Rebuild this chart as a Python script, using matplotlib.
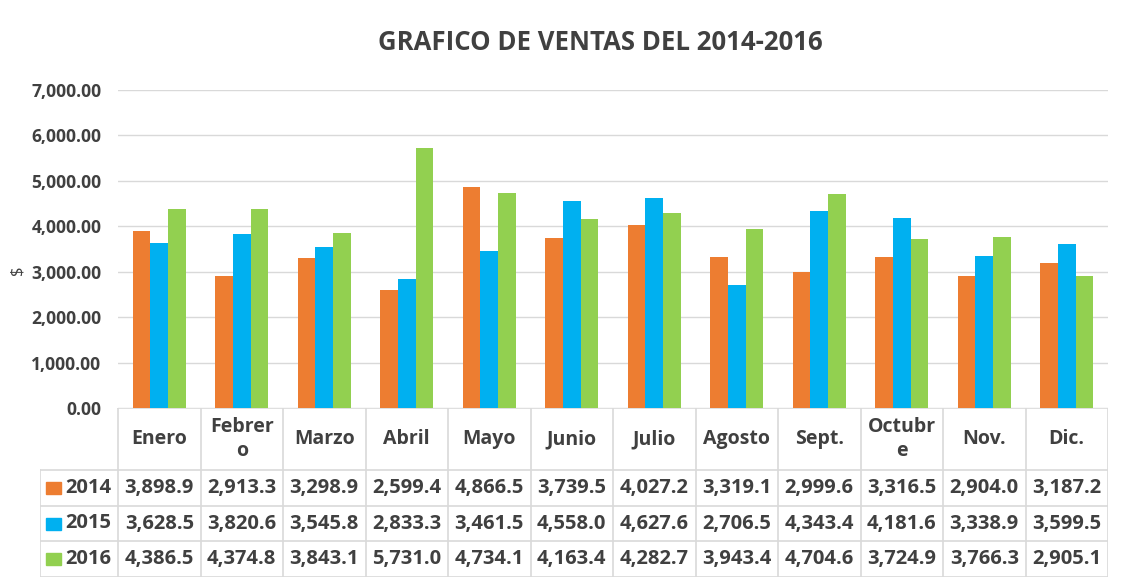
import numpy as np
import matplotlib.pyplot as plt

meses = ["Enero", "Febrer\no", "Marzo", "Abril", "Mayo", "Junio", "Julio",
         "Agosto", "Sept.", "Octubr\ne", "Nov.", "Dic."]
anios = ["2014", "2015", "2016"]
ventas_2014 = [3898.9, 2913.3, 3298.9, 2599.4, 4866.5, 3739.5, 4027.2, 3319.1, 2999.6, 3316.5, 2904.0, 3187.2]
ventas_2015 = [3628.5, 3820.6, 3545.8, 2833.3, 3461.5, 4558.0, 4627.6, 2706.5, 4343.4, 4181.6, 3338.9, 3599.5]
ventas_2016 = [4386.5, 4374.8, 3843.1, 5731.0, 4734.1, 4163.4, 4282.7, 3943.4, 4704.6, 3724.9, 3766.3, 2905.1]
colores = ["#ED7D31", "#00B0F0", "#92D050"]

plt.rcParams['font.family'] = ['Open Sans', 'DejaVu Sans']
txt = "#404040"
grid_c = "#D9D9D9"

W, H = 1126, 588
fig = plt.figure(figsize=(W / 100, H / 100), dpi=100)

# main bar axes
x0, x1, yb, yt = 118, 1108, 408, 90
ax = fig.add_axes([x0 / W, 1 - yb / H, (x1 - x0) / W, (yb - yt) / H])
x = np.arange(len(meses))
bw = 0.213
series = [ventas_2014, ventas_2015, ventas_2016]
for i, (vals, c) in enumerate(zip(series, colores)):
    ax.bar(x + (i - 1) * bw, vals, bw, color=c, zorder=3)

ax.set_xlim(-0.5, 11.5)
ax.set_ylim(0, 7000)
ax.set_yticks(np.arange(0, 7001, 1000))
ax.set_yticklabels([f"{v:,.2f}" for v in np.arange(0, 7001, 1000)],
                   fontsize=12.6, fontweight='bold', color=txt)
ax.set_xticks([])
ax.tick_params(axis='y', length=0, pad=12)
ax.grid(axis='y', color=grid_c, linewidth=1, zorder=0)
for s in ax.spines.values():
    s.set_visible(False)

fig.text(17 / W, 1 - 270 / H, "$", rotation=90, ha='center', va='center',
         fontsize=12, color=txt)
fig.text(600 / W, 1 - 42 / H, "GRAFICO DE VENTAS DEL 2014-2016", ha='center', va='center',
         fontsize=18.5, fontweight='bold', color=txt)

# data table below
tl, tb = 40, 577
unit = (x1 - x0) / 12.0
leg_w = (x0 - tl) / unit
tax = fig.add_axes([tl / W, 1 - tb / H, (x1 - tl) / W, (tb - yb) / H])
tax.set_xlim(-0.5 - leg_w, 11.5)
tax.set_ylim(tb - yb, 0)
tax.axis('off')
hdr = 62
rh = (tb - yb - hdr) / 3.0
lw = 1.2
tax.plot([-0.5, 11.5], [0, 0], color=grid_c, lw=lw)
for k in range(4):
    yy = hdr + k * rh
    tax.plot([-0.5 - leg_w, 11.5], [yy, yy], color=grid_c, lw=lw)
for j in range(13):
    xx = j - 0.5
    tax.plot([xx, xx], [0, tb - yb], color=grid_c, lw=lw)
tax.plot([-0.5 - leg_w] * 2, [hdr, tb - yb], color=grid_c, lw=lw)

for j, m in enumerate(meses):
    tax.text(j, hdr / 2, m, ha='center', va='center', fontsize=14, fontweight='bold',
             color=txt, linespacing=1.2)
for k, (an, vals, c) in enumerate(zip(anios, series, colores)):
    yc = hdr + (k + 0.5) * rh
    tax.add_patch(plt.Rectangle((-0.5 - leg_w + 0.07, yc - 6), 0.19, 12, color=c))
    tax.text(-0.5 - leg_w + 0.31, yc, an, ha='left', va='center', fontsize=14.5,
             fontweight='bold', color=txt)
    for j, v in enumerate(vals):
        tax.text(j, yc, f"{v:,.1f}", ha='center', va='center', fontsize=14.5,
                 fontweight='bold', color=txt)

fig.savefig("out.png", dpi=100)
